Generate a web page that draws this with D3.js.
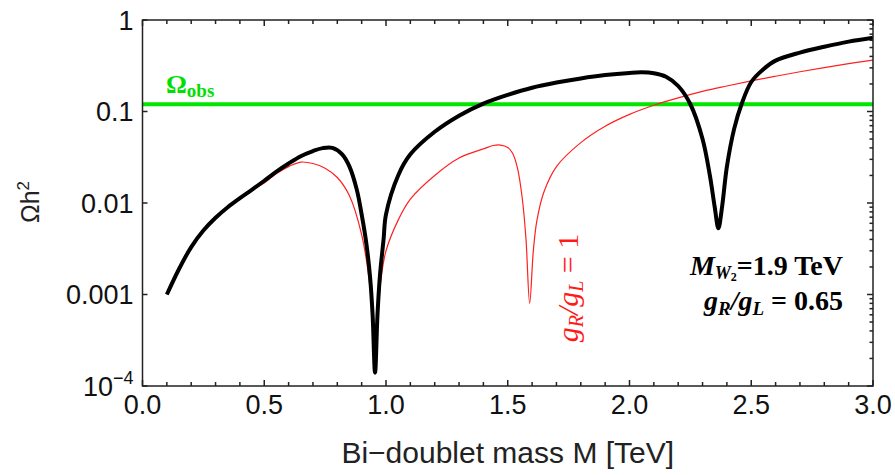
<!DOCTYPE html>
<html>
<head>
<meta charset="utf-8">
<script src="https://cdn.jsdelivr.net/npm/d3@7"></script>
<style>
  html, body { margin: 0; padding: 0; background: #fff; }
  svg { display: block; }
</style>
</head>
<body>
<svg id="chart" width="895" height="475"></svg>
<script>
// Relic abundance vs. bi-doublet mass
const massBlack = [0.10, 0.15, 0.20, 0.25, 0.30, 0.35, 0.40, 0.45, 0.50, 0.55, 0.60, 0.65, 0.70, 0.74, 0.78, 0.82, 0.85, 0.88, 0.90, 0.92, 0.935, 0.945, 0.955, 0.965, 0.975, 0.99, 1.00, 1.05, 1.10, 1.20, 1.30, 1.40, 1.50, 1.60, 1.70, 1.80, 1.90, 2.00, 2.05, 2.10, 2.15, 2.20, 2.25, 2.30, 2.33, 2.35, 2.365, 2.38, 2.40, 2.43, 2.46, 2.50, 2.55, 2.60, 2.70, 2.80, 2.90, 3.00];
const omegaBlack = [0.0010, 0.0019, 0.0033, 0.0050, 0.0069, 0.0090, 0.0113, 0.0140, 0.0175, 0.0220, 0.0270, 0.0325, 0.0370, 0.0398, 0.0400, 0.0340, 0.0250, 0.0140, 0.0075, 0.0035, 0.0015, 0.0006, 0.00014, 0.0006, 0.0016, 0.0040, 0.0075, 0.020, 0.034, 0.060, 0.090, 0.122, 0.152, 0.182, 0.207, 0.230, 0.250, 0.264, 0.268, 0.262, 0.240, 0.190, 0.120, 0.050, 0.020, 0.009, 0.0053, 0.009, 0.025, 0.065, 0.120, 0.210, 0.290, 0.360, 0.440, 0.510, 0.580, 0.640];

const massRed = [0.10, 0.15, 0.20, 0.25, 0.30, 0.35, 0.40, 0.45, 0.50, 0.55, 0.60, 0.65, 0.70, 0.75, 0.80, 0.85, 0.90, 0.93, 0.945, 0.955, 0.965, 0.98, 1.00, 1.05, 1.10, 1.20, 1.30, 1.40, 1.44, 1.47, 1.50, 1.52, 1.54, 1.56, 1.575, 1.59, 1.605, 1.62, 1.65, 1.70, 1.80, 1.90, 2.00, 2.10, 2.20, 2.30, 2.40, 2.50, 2.60, 2.70, 2.80, 2.90, 3.00];
const omegaRed = [0.0010, 0.0019, 0.0033, 0.0050, 0.0069, 0.0090, 0.0112, 0.0138, 0.0165, 0.0210, 0.0250, 0.0280, 0.0270, 0.0240, 0.0190, 0.0120, 0.0045, 0.0015, 0.0005, 0.00014, 0.0005, 0.0015, 0.0030, 0.0065, 0.011, 0.020, 0.031, 0.039, 0.0425, 0.0430, 0.0405, 0.035, 0.024, 0.011, 0.004, 0.0008, 0.003, 0.0065, 0.0135, 0.025, 0.0457, 0.069, 0.093, 0.117, 0.141, 0.166, 0.190, 0.216, 0.243, 0.272, 0.302, 0.333, 0.365];

const omegaObs = 0.12;

const xTicks = [0.0, 0.5, 1.0, 1.5, 2.0, 2.5, 3.0];
const xTickLabels = ["0.0", "0.5", "1.0", "1.5", "2.0", "2.5", "3.0"];
const yTicks = [1, 0.1, 0.01, 0.001, 0.0001];
const yTickLabels = ["1", "0.1", "0.01", "0.001", "10-4"];

const plotLeft = 142.5, plotRight = 873, plotTop = 20, plotBottom = 386;
const svg = d3.select("#chart");

const x = d3.scaleLinear().domain([0, 3]).range([plotLeft, plotRight]);
const y = d3.scaleLog().domain([1e-4, 1]).range([plotBottom, plotTop]);

const sans = "'Liberation Sans', Arial, Helvetica, sans-serif";
const serif = "'Liberation Serif', 'Times New Roman', serif";

// clip curves to the frame
svg.append("clipPath").attr("id", "plotClip")
  .append("rect").attr("x", plotLeft).attr("y", plotTop)
  .attr("width", plotRight - plotLeft).attr("height", plotBottom - plotTop);

const plot = svg.append("g").attr("clip-path", "url(#plotClip)");

// observed relic density
plot.append("line")
  .attr("x1", x(0)).attr("x2", x(3))
  .attr("y1", y(omegaObs)).attr("y2", y(omegaObs))
  .attr("stroke", "#00e600").attr("stroke-width", 4);

const line = d3.line()
  .x(d => x(d[0])).y(d => y(d[1]))
  .curve(d3.curveCatmullRom.alpha(0.5));

plot.append("path")
  .datum(massRed.map((m, i) => [m, omegaRed[i]]))
  .attr("d", line).attr("fill", "none")
  .attr("stroke", "#ff2020").attr("stroke-width", 1.2);

plot.append("path")
  .datum(massBlack.map((m, i) => [m, omegaBlack[i]]))
  .attr("d", line).attr("fill", "none")
  .attr("stroke", "#000").attr("stroke-width", 4)
  .attr("stroke-linejoin", "round");

// frame with inward ticks
const frame = svg.append("g").attr("stroke", "#222").attr("stroke-width", 1.5);
frame.append("rect").attr("x", plotLeft).attr("y", plotTop)
  .attr("width", plotRight - plotLeft).attr("height", plotBottom - plotTop).attr("fill", "none");

const xMinor = d3.range(0, 31).map(i => i / 10);
xMinor.forEach(v => {
  const major = Math.abs(v * 2 - Math.round(v * 2)) < 1e-6;
  const len = major ? 6 : 4;
  frame.append("line").attr("x1", x(v)).attr("x2", x(v)).attr("y1", plotBottom).attr("y2", plotBottom - len);
  frame.append("line").attr("x1", x(v)).attr("x2", x(v)).attr("y1", plotTop).attr("y2", plotTop + len);
});

yTicks.forEach(v => {
  frame.append("line").attr("x1", plotLeft).attr("x2", plotLeft + 5).attr("y1", y(v)).attr("y2", y(v));
  frame.append("line").attr("x1", plotRight).attr("x2", plotRight - 6).attr("y1", y(v)).attr("y2", y(v));
});
[1e-4, 1e-3, 1e-2, 1e-1].forEach(dec => {
  for (let k = 2; k <= 9; k++) {
    const v = dec * k;
    frame.append("line").attr("x1", plotRight).attr("x2", plotRight - 3.5).attr("y1", y(v)).attr("y2", y(v));
  }
});

// tick labels
const xl = svg.append("g").attr("font-family", sans).attr("font-size", 27).attr("fill", "#111");
xTicks.forEach((v, i) => {
  xl.append("text").attr("x", x(v)).attr("y", plotBottom + 28)
    .attr("text-anchor", "middle").text(xTickLabels[i]);
});

const yl = svg.append("g").attr("font-family", sans).attr("font-size", 27).attr("fill", "#111");
yTicks.forEach((v, i) => {
  const t = yl.append("text").attr("x", plotLeft - 9).attr("y", y(v) + 9.5).attr("text-anchor", "end");
  const lab = yTickLabels[i];
  if (lab.startsWith("10")) {
    t.append("tspan").text("10");
    t.append("tspan").attr("font-size", 18).attr("dy", -12).text("\u22124");
  } else {
    t.text(lab);
  }
});

// axis titles
svg.append("text")
  .attr("x", x(1.5)).attr("y", 463)
  .attr("text-anchor", "middle")
  .attr("font-family", sans).attr("font-size", 30).attr("fill", "#222")
  .text("Bi\u2212doublet mass M [TeV]");

const yt = svg.append("text")
  .attr("transform", "translate(39,202) rotate(-90)")
  .attr("text-anchor", "middle")
  .attr("font-family", sans).attr("font-size", 25).attr("fill", "#222");
yt.append("tspan").text("\u03A9h");
yt.append("tspan").attr("font-size", 17).attr("dy", -10).text("2");

// Omega_obs label
const ob = svg.append("text")
  .attr("x", 166).attr("y", 93)
  .attr("font-family", serif).attr("font-weight", "bold")
  .attr("font-size", 26).attr("fill", "#00e000");
ob.append("tspan").text("\u03A9");
ob.append("tspan").attr("font-size", 19).attr("dy", 4).text("obs");

// parameter annotation
const a1 = svg.append("text")
  .attr("x", 843).attr("y", 275).attr("text-anchor", "end")
  .attr("font-family", serif).attr("font-weight", "bold")
  .attr("font-size", 28).attr("fill", "#000");
a1.append("tspan").attr("font-style", "italic").text("M");
a1.append("tspan").attr("font-style", "italic").attr("font-size", 18).attr("dy", 4).text("W");
a1.append("tspan").attr("font-size", 12).attr("dy", 2).text("2");
a1.append("tspan").attr("dy", -6).text("=1.9 TeV");

const a2 = svg.append("text")
  .attr("x", 843).attr("y", 310).attr("text-anchor", "end")
  .attr("font-family", serif).attr("font-weight", "bold")
  .attr("font-size", 28).attr("fill", "#000");
a2.append("tspan").attr("font-style", "italic").text("g");
a2.append("tspan").attr("font-style", "italic").attr("font-size", 19).attr("dy", 5).text("R");
a2.append("tspan").attr("font-style", "italic").attr("dy", -5).text("/g");
a2.append("tspan").attr("font-style", "italic").attr("font-size", 19).attr("dy", 5).text("L");
a2.append("tspan").attr("dy", -5).text(" = 0.65");

// red curve label
const rl = svg.append("text")
  .attr("transform", "translate(578,288) rotate(-90)")
  .attr("text-anchor", "middle")
  .attr("font-family", serif).attr("font-size", 30).attr("fill", "#ff1a1a");
rl.append("tspan").attr("font-style", "italic").text("g");
rl.append("tspan").attr("font-style", "italic").attr("font-size", 20).attr("dy", 5).text("R");
rl.append("tspan").attr("font-style", "italic").attr("dy", -5).text("/g");
rl.append("tspan").attr("font-style", "italic").attr("font-size", 20).attr("dy", 5).text("L");
rl.append("tspan").attr("dy", -5).text(" = 1");
</script>
</body>
</html>
